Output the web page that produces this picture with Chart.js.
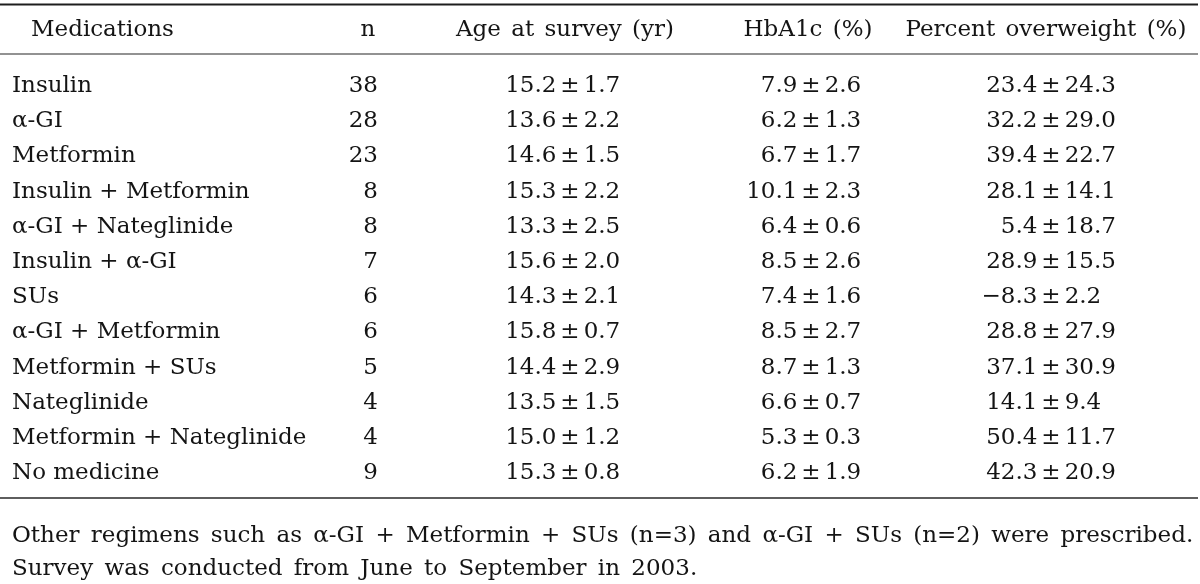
<!DOCTYPE html>
<html>
<head>
<meta charset="utf-8">
<script src="https://cdn.jsdelivr.net/npm/chart.js@4.4.1/dist/chart.umd.min.js"></script>
<style>
  html, body { margin: 0; padding: 0; background: #ffffff; }
  #wrap { width: 1200px; height: 584px; position: relative; }
</style>
</head>
<body>
<div id="wrap"><canvas id="c"></canvas></div>
<script>
// ---------- DATA ----------
const headers = ['Medications', 'n', 'Age at survey (yr)', 'HbA1c (%)', 'Percent overweight (%)'];
const medications = [
  'Insulin', 'α-GI', 'Metformin', 'Insulin + Metformin', 'α-GI + Nateglinide',
  'Insulin + α-GI', 'SUs', 'α-GI + Metformin', 'Metformin + SUs', 'Nateglinide',
  'Metformin + Nateglinide', 'No medicine'
];
const nValues = [38, 28, 23, 8, 8, 7, 6, 6, 5, 4, 4, 9];
const ageMean = [15.2, 13.6, 14.6, 15.3, 13.3, 15.6, 14.3, 15.8, 14.4, 13.5, 15.0, 15.3];
const ageSD   = [1.7, 2.2, 1.5, 2.2, 2.5, 2.0, 2.1, 0.7, 2.9, 1.5, 1.2, 0.8];
const hba1cMean = [7.9, 6.2, 6.7, 10.1, 6.4, 8.5, 7.4, 8.5, 8.7, 6.6, 5.3, 6.2];
const hba1cSD   = [2.6, 1.3, 1.7, 2.3, 0.6, 2.6, 1.6, 2.7, 1.3, 0.7, 0.3, 1.9];
const owMean = [23.4, 32.2, 39.4, 28.1, 5.4, 28.9, -8.3, 28.8, 37.1, 14.1, 50.4, 42.3];
const owSD   = [24.3, 29.0, 22.7, 14.1, 18.7, 15.5, 2.2, 27.9, 30.9, 9.4, 11.7, 20.9];
const notes = [
  'Other regimens such as α-GI + Metformin + SUs (n=3) and α-GI + SUs (n=2) were prescribed.',
  'Survey was conducted from June to September in 2003.'
];

// ---------- LAYOUT (x in scale units 0..1200, y in row units) ----------
const FONT = '23px "DejaVu Serif"';
const headerRowY = -1.60;
const noteRowY = [12.78, 13.72];
const ruleY = { top: -2.486, head: -1.08, bottom: 11.534 };
const headerX = [31, 368, 565, 808, 1046];
const headerAlign = ['left', 'center', 'center', 'center', 'center'];
const medX = 12, nX = 378, ageX = 570, hbX = 811, owX = 1051, noteX = 12;
const ruleStart = 0, ruleEnd = 1198;

function fmt(v) { return (v < 0 ? '\u2212' : '') + Math.abs(v).toFixed(1); }

const rows = medications.map((_, i) => i);

function textSet(points, texts, align, wordSpacing) {
  return { type: 'scatter', data: points, cellTexts: texts, cellAlign: align, wordGap: wordSpacing || 0, pointRadius: 0, pointHoverRadius: 0, showLine: false };
}
function pmSet(x, means, sds) {
  return { type: 'scatter', data: rows.map(i => ({ x: x, y: i })), pmLeft: means.map(fmt), pmRight: sds.map(v => v.toFixed(1)), pointRadius: 0, pointHoverRadius: 0, showLine: false };
}
function ruleSet(y, color, width) {
  return { type: 'line', data: [{ x: ruleStart, y: y }, { x: ruleEnd, y: y }], borderColor: color, borderWidth: width, pointRadius: 0, pointHoverRadius: 0, fill: false };
}

const tablePlugin = {
  id: 'tableText',
  afterDatasetsDraw(chart) {
    const ctx = chart.ctx;
    ctx.save();
    ctx.font = FONT;
    ctx.fillStyle = '#141414';
    ctx.textBaseline = 'alphabetic';
    chart.data.datasets.forEach((ds, di) => {
      const meta = chart.getDatasetMeta(di);
      if (ds.cellTexts) {
        if ('wordSpacing' in ctx) ctx.wordSpacing = (ds.wordGap || 0) + 'px';
        meta.data.forEach((el, i) => {
          const a = Array.isArray(ds.cellAlign) ? ds.cellAlign[i] : ds.cellAlign;
          ctx.textAlign = a;
          ctx.fillText(ds.cellTexts[i], el.x, el.y);
        });
        if ('wordSpacing' in ctx) ctx.wordSpacing = '0px';
      } else if (ds.pmLeft) {
        const pmW = ctx.measureText('±').width;
        const gap = 4;
        meta.data.forEach((el, i) => {
          ctx.textAlign = 'center';
          ctx.fillText('±', el.x, el.y);
          ctx.textAlign = 'right';
          ctx.fillText(ds.pmLeft[i], el.x - pmW / 2 - gap, el.y);
          ctx.textAlign = 'left';
          ctx.fillText(ds.pmRight[i], el.x + pmW / 2 + gap, el.y);
        });
      }
    });
    ctx.restore();
  }
};

const datasets = [
  ruleSet(ruleY.top, '#1e1e1e', 2),
  ruleSet(ruleY.head, '#6e6e6e', 1.5),
  ruleSet(ruleY.bottom, '#5e5e5e', 2),
  textSet(headers.map((_, i) => ({ x: headerX[i], y: headerRowY })), headers, headerAlign, 3),
  textSet(rows.map(i => ({ x: medX, y: i })), medications, 'left', 0),
  textSet(rows.map(i => ({ x: nX, y: i })), nValues.map(String), 'right', 0),
  pmSet(ageX, ageMean, ageSD),
  pmSet(hbX, hba1cMean, hba1cSD),
  pmSet(owX, owMean, owSD),
  textSet(notes.map((_, i) => ({ x: noteX, y: noteRowY[i] })), notes, 'left', 4)
];

new Chart(document.getElementById('c'), {
  type: 'scatter',
  data: { datasets: datasets },
  options: {
    responsive: true,
    maintainAspectRatio: false,
    animation: false,
    events: [],
    layout: { padding: 0 },
    plugins: { legend: { display: false }, tooltip: { enabled: false }, title: { display: false } },
    scales: {
      x: { type: 'linear', display: false, min: 0, max: 1200 },
      y: { type: 'linear', display: false, reverse: true, min: -92 / 35.2, max: (584 - 92) / 35.2 }
    }
  },
  plugins: [tablePlugin]
});
</script>
</body>
</html>
